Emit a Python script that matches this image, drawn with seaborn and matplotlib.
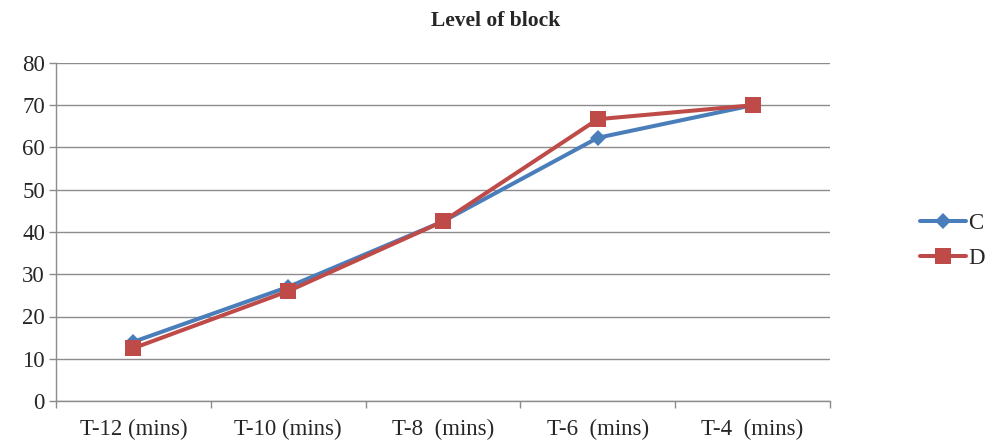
import matplotlib
matplotlib.use("Agg")
import matplotlib.pyplot as plt
import seaborn as sns
import pandas as pd
import numpy as np

categories = ["T-12 (mins)", "T-10 (mins)", "T-8  (mins)", "T-6  (mins)", "T-4  (mins)"]
series_c = [14.0, 27.0, 42.5, 62.3, 70.0]
series_d = [12.5, 26.0, 42.5, 66.7, 70.0]

df = pd.DataFrame({
    "time": categories * 2,
    "value": series_c + series_d,
    "series": ["C"] * 5 + ["D"] * 5,
})

sns.set_style("white")
plt.rcParams["font.family"] = ["Liberation Serif", "DejaVu Serif"]

fig = plt.figure(figsize=(9.92, 4.43), dpi=100)
ax = fig.add_axes([56 / 992, 1 - 401 / 443, (830 - 56) / 992, (401 - 63) / 443])

palette = {"C": "#4a7ebb", "D": "#be4b48"}
sns.lineplot(data=df, x="time", y="value", hue="series", style="series",
             markers={"C": "D", "D": "s"}, dashes=False, palette=palette,
             linewidth=2.9, markersize=9, markeredgewidth=0, ax=ax, sort=False)
for line in ax.get_lines():
    if line.get_marker() == "s":
        line.set_markersize(11)
    elif line.get_marker() == "D":
        line.set_markersize(8.5)

ax.set_xlim(-0.5, 4.5)
ax.set_ylim(0, 80)
ax.set_yticks(np.arange(0, 81, 10))
ax.yaxis.grid(True, color="#8c8c8c", linewidth=1)
ax.set_axisbelow(True)
ax.set_xticks(range(5))
ax.set_xticklabels(categories)
ax.set_xticks(np.arange(-0.5, 4.6, 1), minor=True)
ax.tick_params(axis="x", which="major", length=0, pad=13, labelsize=16.5)
ax.tick_params(axis="x", which="minor", length=5, color="#8c8c8c", width=1, bottom=True)
ax.tick_params(axis="y", length=5, color="#8c8c8c", width=1, labelsize=16.5, pad=3, left=True)
for s in ["top", "right"]:
    ax.spines[s].set_visible(False)
for s in ["left", "bottom"]:
    ax.spines[s].set_color("#8c8c8c")
    ax.spines[s].set_linewidth(1)
ax.set_xlabel("")
ax.set_ylabel("")

fig.text(0.5, 1 - 21 / 443, "Level of block", ha="center", va="center",
         fontsize=15.5, fontweight="bold")

handles, labels = ax.get_legend_handles_labels()
ax.legend(handles, labels, loc="center left", bbox_to_anchor=(911 / 992, 1 - 241 / 443),
          bbox_transform=fig.transFigure, frameon=False, fontsize=16.5,
          handlelength=2.0, handletextpad=0.1, labelspacing=0.6, borderaxespad=0)

fig.savefig("out.png", dpi=100)
